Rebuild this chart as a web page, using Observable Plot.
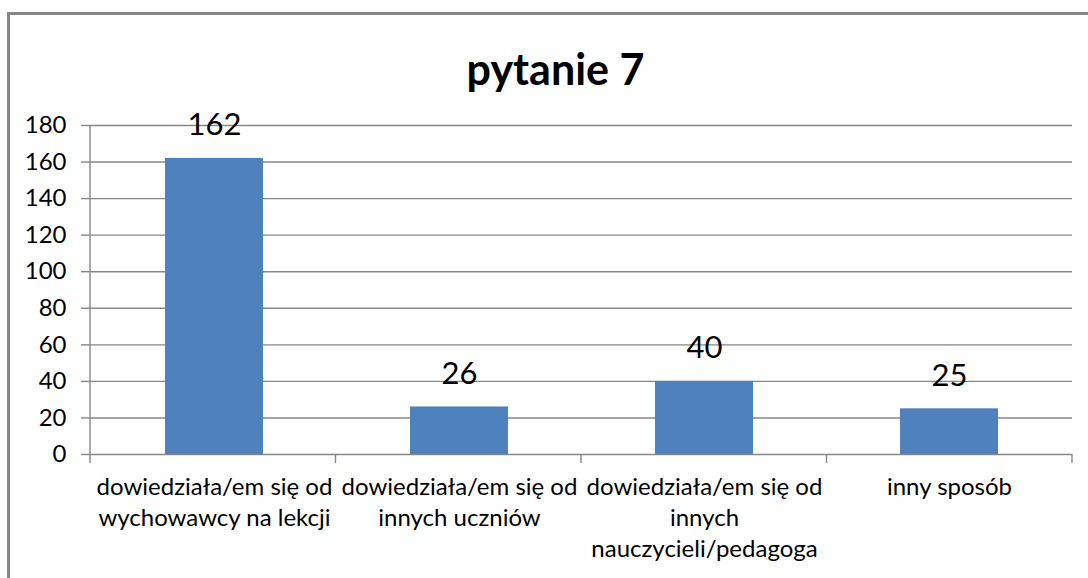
<!DOCTYPE html>
<html>
<head>
<meta charset="utf-8">
<script src="https://cdn.jsdelivr.net/npm/d3@7"></script>
<script src="https://cdn.jsdelivr.net/npm/@observablehq/plot@0.6"></script>
<style>
  html, body { margin: 0; padding: 0; background: #fff; overflow: hidden; }
  #wrap { position: relative; width: 1088px; height: 578px; }
  #frame { position: absolute; left: 7px; top: 12px; width: 1100px; height: 600px; border: 3px solid #878787; box-sizing: border-box; pointer-events: none; }
  #chart { position: absolute; left: 0; top: 0; }
</style>
</head>
<body>
<div id="wrap"><div id="chart"></div><div id="frame"></div></div>
<script>
const title = "pytanie 7";
const categories = [
  "dowiedziała/em się od wychowawcy na lekcji",
  "dowiedziała/em się od innych uczniów",
  "dowiedziała/em się od innych nauczycieli/pedagoga",
  "inny sposób"
];
const tickLabels = [
  "dowiedziała/em się od\nwychowawcy na lekcji",
  "dowiedziała/em się od\ninnych uczniów",
  "dowiedziała/em się od\ninnych\nnauczycieli/pedagoga",
  "inny sposób"
];
const values = [162, 26, 40, 25];
const yTicks = [0, 20, 40, 60, 80, 100, 120, 140, 160, 180];

const data = categories.map((c, i) => ({category: c, value: values[i]}));
const labelOf = new Map(categories.map((c, i) => [c, tickLabels[i]]));

const font = "Lato, 'Open Sans', sans-serif";
const gridColor = "#878787";

function axisLines(index, scales, values, dimensions) {
  const {width, height, marginLeft, marginRight, marginTop, marginBottom} = dimensions;
  const n = categories.length;
  const inner = width - marginLeft - marginRight;
  const y0 = height - marginBottom;
  const g = d3.create("svg:g").attr("stroke", gridColor).attr("stroke-width", 1.4);
  // vertical value-axis line
  g.append("line").attr("x1", marginLeft).attr("x2", marginLeft)
    .attr("y1", marginTop).attr("y2", y0 + 9);
  // category boundary ticks
  for (let i = 1; i <= n; i++) {
    const x = marginLeft + (i * inner) / n;
    g.append("line").attr("x1", x).attr("x2", x).attr("y1", y0).attr("y2", y0 + 9);
  }
  return g.node();
}

const plot = Plot.plot({
  width: 1088,
  height: 578,
  marginLeft: 90,
  marginRight: 16,
  marginTop: 125,
  marginBottom: 124,
  style: {fontFamily: font, background: "transparent", color: "#000"},
  x: {domain: categories, paddingInner: 0.6, paddingOuter: 0.3, label: null},
  y: {domain: [0, 180], label: null},
  marks: [
    Plot.gridY(yTicks, {stroke: gridColor, strokeOpacity: 1, strokeWidth: 1.4}),
    Plot.axisY({ticks: yTicks, tickSize: 9, tickPadding: 15, stroke: gridColor, strokeWidth: 1.4, fontSize: 24, fill: "#000", label: null}),
    Plot.barY(data, {x: "category", y: "value", fill: "#4F81BD"}),
    Plot.text(data, {x: "category", y: "value", text: d => String(d.value), lineAnchor: "bottom", dy: -23, fontSize: 31, fill: "#000"}),
    Plot.axisX({tickSize: 0, tickPadding: 18, tickFormat: d => labelOf.get(d), fontSize: 24, lineHeight: 1.3, fill: "#000", label: null}),
    axisLines,
    Plot.text([title], {frameAnchor: "top", dy: -71, dx: -26, fontSize: 43, fontWeight: "bold", fill: "#000"})
  ]
});
document.getElementById("chart").appendChild(plot);
</script>
</body>
</html>
